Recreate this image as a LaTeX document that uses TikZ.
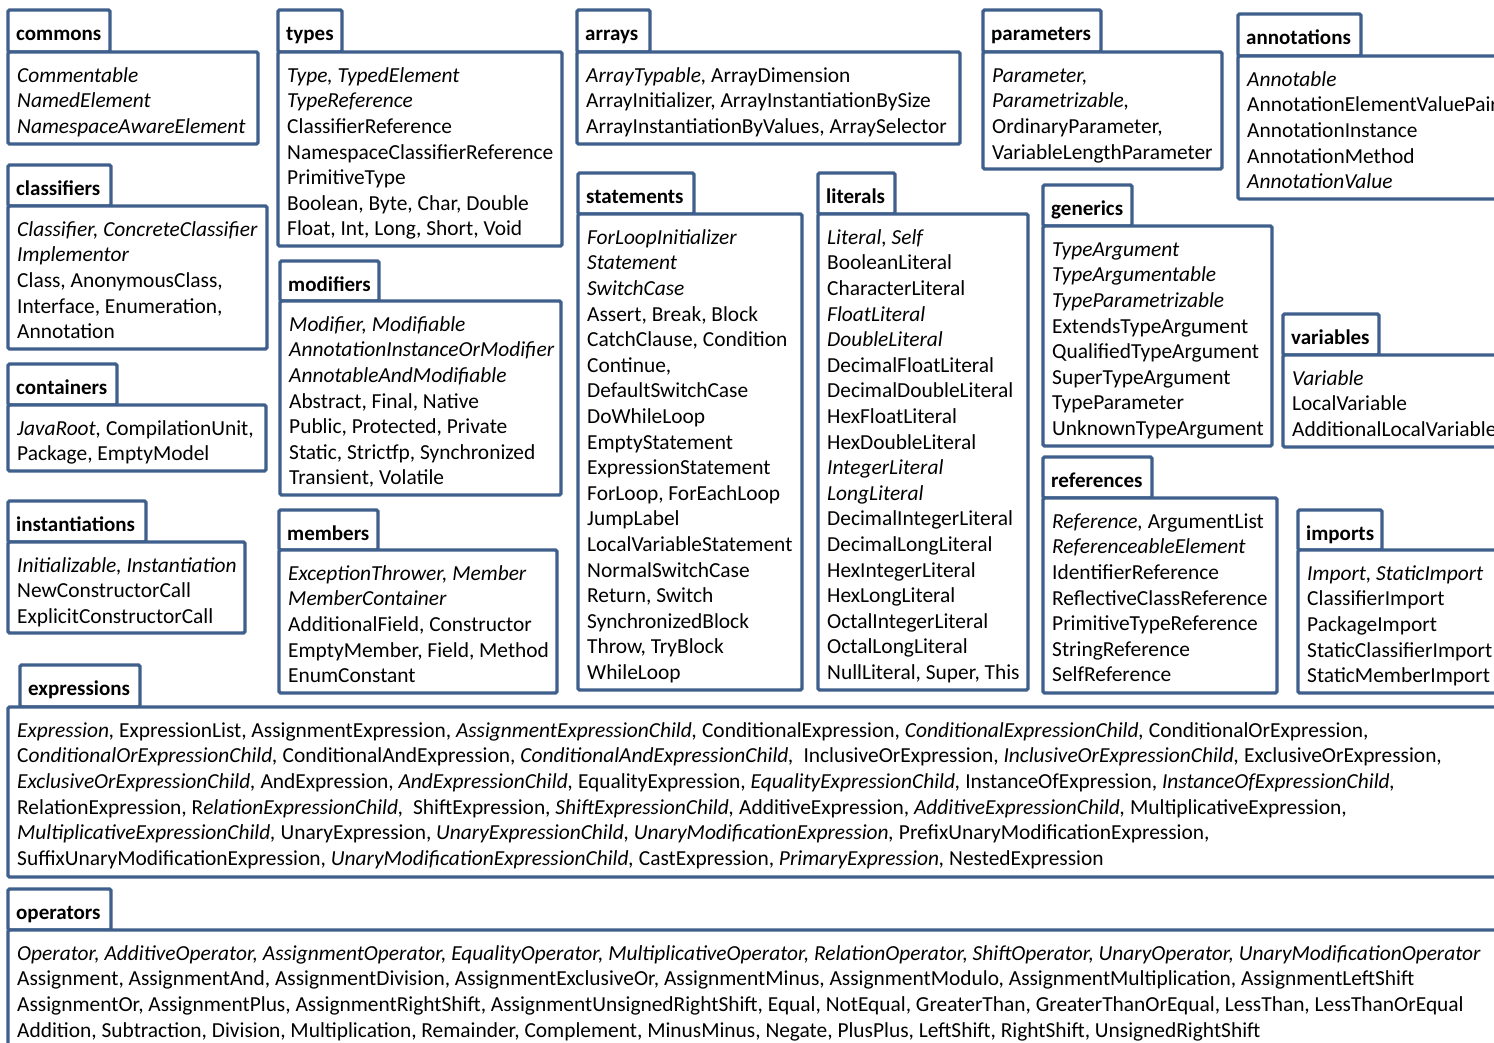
\documentclass[tikz,border=0pt]{standalone}
\usepackage{fontspec}
\setmainfont[Ligatures=Common]{Carlito}
\definecolor{pkgblue}{RGB}{63,95,140}
\tikzset{
  pkgline/.style={draw=pkgblue, line width=3.4pt, fill=white, rounded corners=1.5pt},
  tablabel/.style={anchor=base west, inner sep=0pt, font=\fontsize{21}{25.6}\selectfont\bfseries},
  bodytext/.style={anchor=north west, inner sep=0pt, align=left, font=\fontsize{21.4}{25.6}\selectfont},
}
% package box: name, tab x1, tab x2, tab top, body x1, body top, body x2, body bottom, contents
\newcommand\pkgbox[9]{%
  \draw[pkgline] (#2,#4) rectangle (#3,#6);
  \draw[pkgline] (#5,#6) rectangle (#7,#8);
  \node[tablabel] (#1-label) at (#2+8,#4+30.5) {#1};
  \node[bodytext] (#1-body) at (#5+9,#6+12.2) {\strut #9};
}
% abstract (italic) element names
\newcommand\abs[1]{\textit{#1}}
\begin{document}
\begin{tikzpicture}[x=1pt,y=-1pt]
\fill[white] (0,0) rectangle (1494,1043);
\clip (0,0) rectangle (1494,1043);

\pkgbox{commons}{8}{110}{10}{8}{52}{258}{144}{%
  \abs{Commentable}\\ \abs{NamedElement}\\ \abs{NamespaceAwareElement}}

\pkgbox{types}{278}{342}{10}{278}{52}{562}{246}{%
  \abs{Type, TypedElement}\\ \abs{TypeReference}\\ ClassifierReference\\
  NamespaceClassifierReference\\ PrimitiveType\\ Boolean, Byte, Char, Double\\
  Float, Int, Long, Short, Void}

\pkgbox{arrays}{577}{650}{10}{577}{52}{960}{144}{%
  \abs{ArrayTypable,} ArrayDimension\\ ArrayInitializer, ArrayInstantiationBySize\\
  ArrayInstantiationByValues, ArraySelector}

\pkgbox{parameters}{983}{1101}{10}{983}{52}{1222}{169}{%
  \abs{Parameter,}\\ \abs{Parametrizable,}\\ OrdinaryParameter,\\ VariableLengthParameter}

\pkgbox{annotations}{1238}{1361}{14}{1238}{56}{1520}{199}{%
  \abs{Annotable}\\ AnnotationElementValuePair\\ AnnotationInstance\\
  AnnotationMethod\\ \abs{AnnotationValue}}

\pkgbox{classifiers}{8}{111}{165}{8}{206}{267}{349}{%
  \abs{Classifier, ConcreteClassifier}\\ \abs{Implementor}\\ Class, AnonymousClass,\\
  Interface, Enumeration,\\ Annotation}

\pkgbox{containers}{8}{117}{364}{8}{405}{266}{471}{%
  \abs{JavaRoot,} CompilationUnit,\\ Package, EmptyModel}

\pkgbox{instantiations}{8}{146}{501}{8}{542}{245}{633}{%
  \abs{Initializable, Instantiation}\\ NewConstructorCall\\ ExplicitConstructorCall}

\pkgbox{modifiers}{280}{379}{261}{280}{301}{561}{495}{%
  \abs{Modifier, Modifiable}\\ \abs{AnnotationInstanceOrModifier}\\ \abs{AnnotableAndModifiable}\\
  Abstract, Final, Native\\ Public, Protected, Private\\ Static, Strictfp, Synchronized\\
  Transient, Volatile}

\pkgbox{members}{279}{378}{510}{279}{550}{557}{693}{%
  \abs{ExceptionThrower, Member}\\ \abs{MemberContainer}\\ AdditionalField, Constructor\\
  EmptyMember, Field, Method\\ EnumConstant}

\pkgbox{statements}{578}{694}{173}{578}{214}{802}{690}{%
  \abs{ForLoopInitializer}\\ \abs{Statement}\\ \abs{SwitchCase}\\ Assert, Break, Block\\
  CatchClause, Condition\\ Continue,\\ DefaultSwitchCase\\ DoWhileLoop\\ EmptyStatement\\
  ExpressionStatement\\ ForLoop, ForEachLoop\\ JumpLabel\\ LocalVariableStatement\\
  NormalSwitchCase\\ Return, Switch\\ SynchronizedBlock\\ Throw, TryBlock\\ WhileLoop}

\pkgbox{literals}{818}{895}{173}{818}{214}{1028}{690}{%
  \abs{Literal, Self}\\ BooleanLiteral\\ CharacterLiteral\\ \abs{FloatLiteral}\\ \abs{DoubleLiteral}\\
  DecimalFloatLiteral\\ DecimalDoubleLiteral\\ HexFloatLiteral\\ HexDoubleLiteral\\
  \abs{IntegerLiteral}\\ \abs{LongLiteral}\\ DecimalIntegerLiteral\\ DecimalLongLiteral\\
  HexIntegerLiteral\\ HexLongLiteral\\ OctalIntegerLiteral\\ OctalLongLiteral\\
  NullLiteral, Super, This}

\pkgbox{generics}{1043}{1132}{185}{1043}{226}{1272}{446}{%
  \abs{TypeArgument}\\ \abs{TypeArgumentable}\\ \abs{TypeParametrizable}\\ ExtendsTypeArgument\\
  QualifiedTypeArgument\\ SuperTypeArgument\\ TypeParameter\\ UnknownTypeArgument}

\pkgbox{references}{1043}{1152}{457}{1043}{498}{1277}{693}{%
  \abs{Reference,} ArgumentList\\ \abs{ReferenceableElement}\\ IdentifierReference\\
  ReflectiveClassReference\\ PrimitiveTypeReference\\ StringReference\\ SelfReference}

\pkgbox{variables}{1283}{1379}{314}{1283}{355}{1520}{447}{%
  \abs{Variable}\\ LocalVariable\\ AdditionalLocalVariable}

\pkgbox{imports}{1298}{1382}{510}{1298}{550}{1520}{693}{%
  \abs{Import, StaticImport}\\ ClassifierImport\\ PackageImport\\
  StaticClassifierImport\\ StaticMemberImport}

\pkgbox{expressions}{20}{140}{665}{8}{707}{1520}{877}{%
  \abs{Expression,} ExpressionList, AssignmentExpression, \abs{AssignmentExpressionChild,} ConditionalExpression, \abs{ConditionalExpressionChild,} ConditionalOrExpression,\\
  C\abs{onditionalOrExpressionChild,} ConditionalAndExpression, \abs{ConditionalAndExpressionChild,}\ \ InclusiveOrExpression, \abs{InclusiveOrExpressionChild,} ExclusiveOrExpression,\\
  \abs{ExclusiveOrExpressionChild,} AndExpression, \abs{AndExpressionChild,} EqualityExpression, \abs{EqualityExpressionChild,} InstanceOfExpression, \abs{InstanceOfExpressionChild,}\\
  RelationExpression, R\abs{elationExpressionChild,}\ \ ShiftExpression, \abs{ShiftExpressionChild,} AdditiveExpression, \abs{AdditiveExpressionChild,} MultiplicativeExpression,\\
  \abs{MultiplicativeExpressionChild,} UnaryExpression, \abs{UnaryExpressionChild, UnaryModificationExpression,} PrefixUnaryModificationExpression,\\
  SuffixUnaryModificationExpression, \abs{UnaryModificationExpressionChild,} CastExpression, \abs{PrimaryExpression,} NestedExpression}

\pkgbox{operators}{8}{111}{889}{8}{930}{1520}{1070}{%
  \abs{Operator, AdditiveOperator, AssignmentOperator, EqualityOperator, MultiplicativeOperator, RelationOperator, ShiftOperator, UnaryOperator, UnaryModificationOperator}\\
  Assignment, AssignmentAnd, AssignmentDivision, AssignmentExclusiveOr, AssignmentMinus, AssignmentModulo, AssignmentMultiplication, AssignmentLeftShift\\
  AssignmentOr, AssignmentPlus, AssignmentRightShift, AssignmentUnsignedRightShift, Equal, NotEqual, GreaterThan, GreaterThanOrEqual, LessThan, LessThanOrEqual\\
  Addition, Subtraction, Division, Multiplication, Remainder, Complement, MinusMinus, Negate, PlusPlus, LeftShift, RightShift, UnsignedRightShift}
\end{tikzpicture}
\end{document}
